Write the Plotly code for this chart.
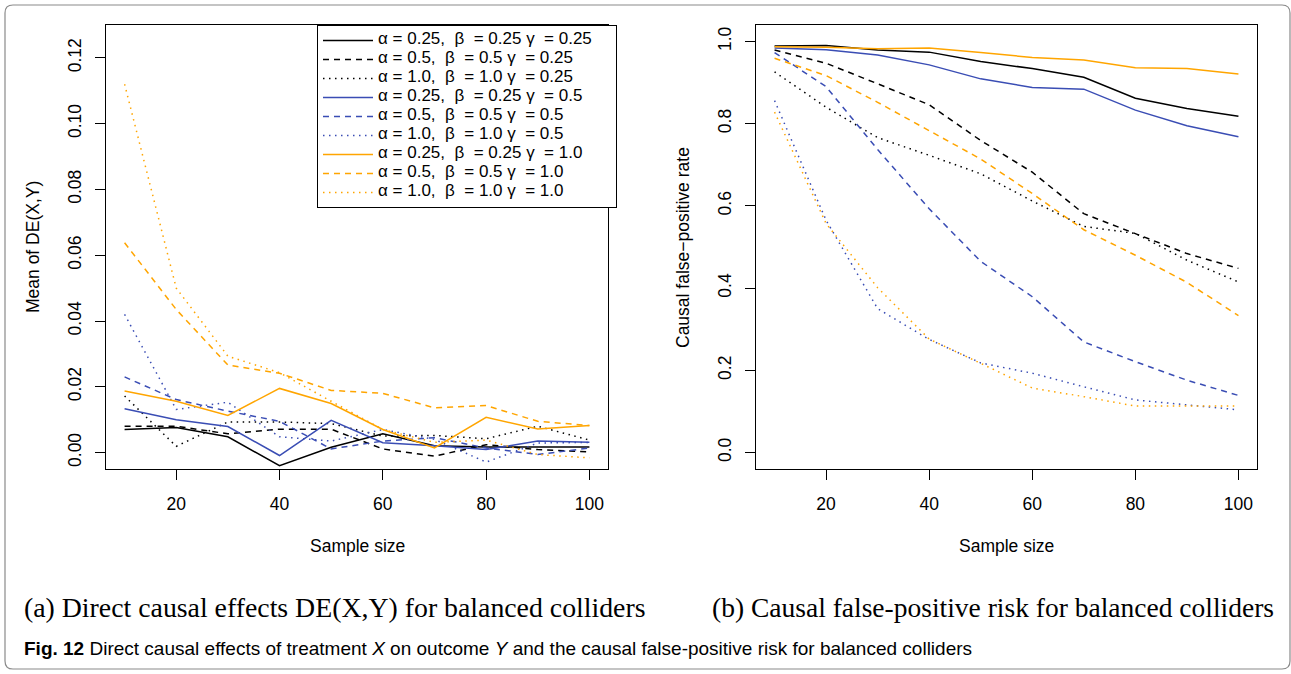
import plotly.graph_objects as go

W, H = 1291, 674

sample_size = [10, 20, 30, 40, 50, 60, 70, 80, 90, 100]

series_names = [
    "α = 0.25,\u00a0\u00a0β\u00a0 = 0.25 γ\u00a0 = 0.25",
    "α = 0.5,\u00a0\u00a0β\u00a0 = 0.5 γ\u00a0 = 0.25",
    "α = 1.0,\u00a0\u00a0β\u00a0 = 1.0 γ\u00a0 = 0.25",
    "α = 0.25,\u00a0\u00a0β\u00a0 = 0.25 γ\u00a0 = 0.5",
    "α = 0.5,\u00a0\u00a0β\u00a0 = 0.5 γ\u00a0 = 0.5",
    "α = 1.0,\u00a0\u00a0β\u00a0 = 1.0 γ\u00a0 = 0.5",
    "α = 0.25,\u00a0\u00a0β\u00a0 = 0.25 γ\u00a0 = 1.0",
    "α = 0.5,\u00a0\u00a0β\u00a0 = 0.5 γ\u00a0 = 1.0",
    "α = 1.0,\u00a0\u00a0β\u00a0 = 1.0 γ\u00a0 = 1.0",
]

# (a) mean of DE(X,Y)
de_a025_g025 = [0.0070, 0.0076, 0.0048, -0.0040, 0.0016, 0.0057, 0.0021, 0.0017, 0.0017, 0.0017]
de_a05_g025 = [0.0080, 0.0080, 0.0057, 0.0071, 0.0071, 0.0011, -0.0011, 0.0024, 0.0009, 0.0002]
de_a10_g025 = [0.0172, 0.0019, 0.0093, 0.0093, 0.0088, 0.0050, 0.0052, 0.0042, 0.0080, 0.0038]
de_a025_g05 = [0.0133, 0.0100, 0.0079, -0.0009, 0.0098, 0.0030, 0.0021, 0.0009, 0.0035, 0.0031]
de_a05_g05 = [0.0230, 0.0161, 0.0126, 0.0095, 0.0011, 0.0035, 0.0045, 0.0014, -0.0006, 0.0014]
de_a10_g05 = [0.0420, 0.0131, 0.0153, 0.0048, 0.0035, 0.0070, 0.0040, -0.0029, 0.0029, 0.0031]
de_a025_g10 = [0.0187, 0.0156, 0.0113, 0.0195, 0.0149, 0.0070, 0.0014, 0.0107, 0.0072, 0.0082]
de_a05_g10 = [0.0638, 0.0435, 0.0266, 0.0241, 0.0189, 0.0180, 0.0136, 0.0143, 0.0095, 0.0082]
de_a10_g10 = [0.1120, 0.0500, 0.0293, 0.0243, 0.0156, 0.0070, 0.0031, 0.0038, -0.0006, -0.0016]

# (b) causal false-positive rate
fp_a025_g025 = [0.989, 0.990, 0.979, 0.974, 0.951, 0.934, 0.913, 0.862, 0.837, 0.818]
fp_a05_g025 = [0.979, 0.947, 0.897, 0.846, 0.759, 0.682, 0.581, 0.533, 0.484, 0.448]
fp_a10_g025 = [0.926, 0.840, 0.766, 0.723, 0.678, 0.612, 0.550, 0.533, 0.468, 0.415]
fp_a025_g05 = [0.984, 0.980, 0.967, 0.943, 0.909, 0.888, 0.884, 0.833, 0.795, 0.768]
fp_a05_g05 = [0.973, 0.890, 0.737, 0.593, 0.465, 0.379, 0.269, 0.221, 0.176, 0.139]
fp_a10_g05 = [0.856, 0.565, 0.350, 0.275, 0.218, 0.193, 0.160, 0.128, 0.116, 0.104]
fp_a025_g10 = [0.987, 0.986, 0.982, 0.984, 0.973, 0.961, 0.955, 0.936, 0.934, 0.921]
fp_a05_g10 = [0.959, 0.917, 0.852, 0.783, 0.714, 0.630, 0.542, 0.480, 0.414, 0.333]
fp_a10_g10 = [0.828, 0.557, 0.401, 0.276, 0.217, 0.157, 0.136, 0.113, 0.113, 0.113]

de_series = [de_a025_g025, de_a05_g025, de_a10_g025, de_a025_g05, de_a05_g05,
             de_a10_g05, de_a025_g10, de_a05_g10, de_a10_g10]
fp_series = [fp_a025_g025, fp_a05_g025, fp_a10_g025, fp_a025_g05, fp_a05_g05,
             fp_a10_g05, fp_a025_g10, fp_a05_g10, fp_a10_g10]

colors = ["#000000"] * 3 + ["#3A4DB4"] * 3 + ["#FFA500"] * 3
dashes = ["solid", "6px,5px", "1.5px,4.5px"] * 3

de_ticks = [0.00, 0.02, 0.04, 0.06, 0.08, 0.10, 0.12]
de_ticklabels = ["0.00", "0.02", "0.04", "0.06", "0.08", "0.10", "0.12"]
fp_ticks = [0.0, 0.2, 0.4, 0.6, 0.8, 1.0]
fp_ticklabels = ["0.0", "0.2", "0.4", "0.6", "0.8", "1.0"]
x_ticks = [20, 40, 60, 80, 100]

SANS = "Liberation Sans, Arial, Helvetica, sans-serif"
SERIF = "Liberation Serif, Times New Roman, serif"
NARROW = "Liberation Sans Narrow, Arial Narrow, Liberation Sans, sans-serif"
FS = 17.5

fig = go.Figure()
for i, (name, ys, c, d) in enumerate(zip(series_names, de_series, colors, dashes)):
    pad = "\u00a0" * 4 if i == 0 else ""
    fig.add_trace(go.Scatter(x=sample_size, y=ys, mode="lines",
                             name=f'<span style="font-size:17px">{name}{pad}</span>',
                             line=dict(color=c, dash=d, width=1.5),
                             xaxis="x", yaxis="y"))
for name, ys, c, d in zip(series_names, fp_series, colors, dashes):
    fig.add_trace(go.Scatter(x=sample_size, y=ys, mode="lines", name=name,
                             line=dict(color=c, dash=d, width=1.5),
                             xaxis="x2", yaxis="y2", showlegend=False))

def px(xp):
    return xp / W

def py(yp):
    return 1 - yp / H

axis_common = dict(showline=True, mirror=True, linecolor="black", linewidth=1,
                   ticks="outside", ticklen=10, tickcolor="black", tickwidth=1,
                   showgrid=False, zeroline=False,
                   tickfont=dict(family=SANS, size=FS, color="black"))

ydom = [py(469), py(25)]
fig.update_layout(
    width=W, height=H,
    margin=dict(l=0, r=0, t=0, b=0),
    paper_bgcolor="white", plot_bgcolor="white",
    xaxis=dict(domain=[px(106), px(608)], range=[6.4, 103.6], tickvals=x_ticks,
               anchor="y", ticklabelstandoff=9, **axis_common),
    yaxis=dict(domain=ydom, range=[-0.005, 0.130], tickvals=de_ticks,
               ticktext=de_ticklabels, tickangle=-90, anchor="x",
               ticklabelstandoff=7, **axis_common),
    xaxis2=dict(domain=[px(756), px(1257)], range=[6.4, 103.6], tickvals=x_ticks,
                anchor="y2", ticklabelstandoff=9, **axis_common),
    yaxis2=dict(domain=ydom, range=[-0.04, 1.04], tickvals=fp_ticks,
                ticktext=fp_ticklabels, tickangle=-90, anchor="x2",
                ticklabelstandoff=7, **axis_common),
    legend=dict(x=px(317), y=py(25), xanchor="left", yanchor="top",
                bgcolor="white", bordercolor="black", borderwidth=1,
                font=dict(family=SANS, size=10, color="black"),
                itemwidth=50, tracegroupgap=0),
    showlegend=True,
)

annotations = [
    dict(text="Mean of DE(X,Y)", x=px(33), y=py(247), textangle=-90,
         font=dict(family=SANS, size=FS, color="black")),
    dict(text="Causal false\u2212positive rate", x=px(683), y=py(247), textangle=-90,
         font=dict(family=SANS, size=FS, color="black")),
    dict(text="Sample size", x=px(357), y=py(546),
         font=dict(family=SANS, size=FS, color="black")),
    dict(text="Sample size", x=px(1006.5), y=py(546),
         font=dict(family=SANS, size=FS, color="black")),
    dict(text="(a) Direct causal effects DE(X,Y) for balanced colliders",
         x=px(22), y=py(607), xanchor="left",
         font=dict(family=SERIF, size=27.8, color="black")),
    dict(text="(b) Causal false-positive risk for balanced colliders",
         x=px(710), y=py(607), xanchor="left",
         font=dict(family=SERIF, size=27.5, color="black")),
    dict(text="<b>Fig. 12</b> Direct causal effects of treatment <i>X</i> on outcome "
              "<i>Y</i> and the causal false-positive risk for balanced colliders",
         x=px(22), y=py(648), xanchor="left",
         font=dict(family=NARROW, size=19, color="black")),
]
for a in annotations:
    a.update(xref="paper", yref="paper", showarrow=False, yanchor=a.get("yanchor", "middle"))
    a.setdefault("xanchor", "center")
fig.update_layout(annotations=annotations)

# rounded outer frame
x0, y0, x1, y1, r = px(5), py(669), px(1290), py(5), 8
rx, ry = r / W, r / H
path = (f"M {x0+rx},{y1} L {x1-rx},{y1} Q {x1},{y1} {x1},{y1-ry} "
        f"L {x1},{y0+ry} Q {x1},{y0} {x1-rx},{y0} L {x0+rx},{y0} "
        f"Q {x0},{y0} {x0},{y0+ry} L {x0},{y1-ry} Q {x0},{y1} {x0+rx},{y1} Z")
fig.add_shape(type="path", path=path, xref="paper", yref="paper",
              line=dict(color="#8a8a8a", width=1.2), layer="below")

fig.write_html("out.html")
